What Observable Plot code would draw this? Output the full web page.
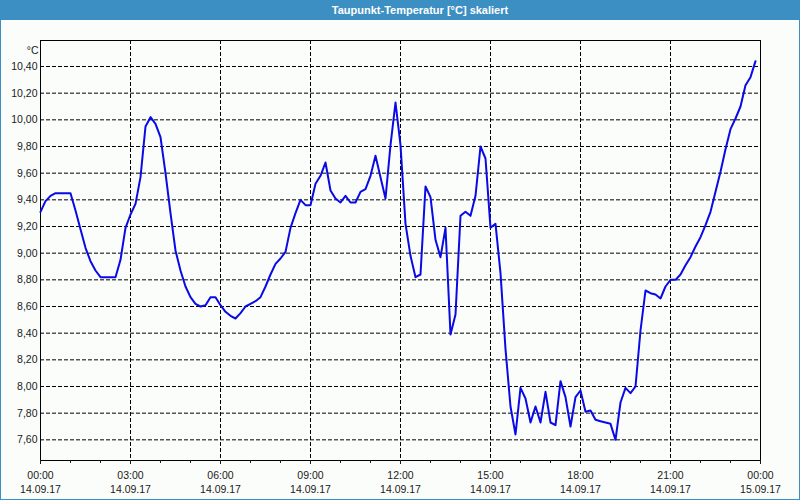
<!DOCTYPE html>
<html><head><meta charset="utf-8">
<script src="https://cdn.jsdelivr.net/npm/d3@7"></script>
<script src="https://cdn.jsdelivr.net/npm/@observablehq/plot@0.6"></script>
<style>
body{margin:0;background:#fff;}
#wrap{width:800px;height:500px;box-sizing:border-box;border:1px solid #3c8fc3;border-top:none;background:#fbfdfb;font-family:"Liberation Sans",Arial,sans-serif;overflow:hidden;}
#title{height:20px;line-height:20px;background:#3c8fc3;color:#fff;font-weight:bold;font-size:11px;text-align:center;padding-left:40px;}
#chart svg{display:block;}
</style></head>
<body><div id="wrap"><div id="title">Taupunkt-Temperatur [°C] skaliert</div><div id="chart"></div></div>
<script>
const times = [
"00:00","00:10","00:20","00:30","00:40","00:50","01:00","01:10","01:20","01:30","01:40","01:50",
"02:00","02:10","02:20","02:30","02:40","02:50","03:00","03:10","03:20","03:30","03:40","03:50",
"04:00","04:10","04:20","04:30","04:40","04:50","05:00","05:10","05:20","05:30","05:40","05:50",
"06:00","06:10","06:20","06:30","06:40","06:50","07:00","07:10","07:20","07:30","07:40","07:50",
"08:00","08:10","08:20","08:30","08:40","08:50","09:00","09:10","09:20","09:30","09:40","09:50",
"10:00","10:10","10:20","10:30","10:40","10:50","11:00","11:10","11:20","11:30","11:40","11:50",
"12:00","12:10","12:20","12:30","12:40","12:50","13:00","13:10","13:20","13:30","13:40","13:50",
"14:00","14:10","14:20","14:30","14:40","14:50","15:00","15:10","15:20","15:30","15:40","15:50",
"16:00","16:10","16:20","16:30","16:40","16:50","17:00","17:10","17:20","17:30","17:40","17:50",
"18:00","18:10","18:20","18:30","18:40","18:50","19:00","19:10","19:20","19:30","19:40","19:50",
"20:00","20:10","20:20","20:30","20:40","20:50","21:00","21:10","21:20","21:30","21:40","21:50",
"22:00","22:10","22:20","22:30","22:40","22:50","23:00","23:10","23:20","23:30","23:40","23:50"
];
const values = [
9.31,9.39,9.43,9.45,9.45,9.45,9.45,9.32,9.18,9.04,8.94,8.87,
8.82,8.82,8.82,8.82,8.95,9.19,9.29,9.37,9.57,9.95,10.02,9.97,
9.87,9.60,9.30,9.02,8.87,8.75,8.67,8.62,8.60,8.61,8.67,8.67,
8.61,8.56,8.53,8.51,8.55,8.60,8.62,8.64,8.67,8.75,8.84,8.92,
8.96,9.01,9.19,9.30,9.40,9.36,9.36,9.52,9.58,9.68,9.47,9.41,
9.38,9.43,9.38,9.38,9.46,9.48,9.58,9.73,9.57,9.41,9.81,10.13,
9.81,9.22,8.98,8.82,8.84,9.50,9.42,9.10,8.97,9.19,8.39,8.54,
9.28,9.31,9.28,9.43,9.80,9.71,9.19,9.22,8.85,8.28,7.85,7.64,
7.99,7.91,7.73,7.85,7.73,7.96,7.73,7.71,8.04,7.92,7.70,7.92,
7.97,7.81,7.82,7.75,7.74,7.73,7.72,7.60,7.88,7.99,7.95,8.00,
8.42,8.72,8.70,8.69,8.66,8.75,8.80,8.80,8.84,8.91,8.97,9.05,
9.12,9.21,9.31,9.46,9.61,9.78,9.93,10.01,10.10,10.26,10.32,10.44
];
const yTicks = [7.6,7.8,8.0,8.2,8.4,8.6,8.8,9.0,9.2,9.4,9.6,9.8,10.0,10.2,10.4];
const yTickLabels = ["7,60","7,80","8,00","8,20","8,40","8,60","8,80","9,00","9,20","9,40","9,60","9,80","10,00","10,20","10,40"];
const xMajorLabels = ["00:00\n14.09.17","03:00\n14.09.17","06:00\n14.09.17","09:00\n14.09.17","12:00\n14.09.17","15:00\n14.09.17","18:00\n14.09.17","21:00\n14.09.17","00:00\n15.09.17"];
const unit = "°C";

const day = Date.UTC(2017, 8, 14);
const data = times.map((t, i) => {
  const [h, m] = t.split(":").map(Number);
  return {date: new Date(day + (h * 60 + m) * 60000), value: values[i]};
});
const start = new Date(day), end = new Date(day + 24 * 3600000);
const majorTicks = d3.utcHour.every(3).range(start, new Date(+end + 1));
const minorTicks = d3.utcHour.every(1).range(start, new Date(+end + 1));

const chart = Plot.plot({
  width: 798, height: 479,
  marginTop: 20, marginBottom: 39, marginLeft: 39, marginRight: 39,
  style: {background: "transparent", fontFamily: "'Liberation Sans', Arial, sans-serif", fontSize: "10.5px", color: "#1a1a1a"},
  x: {type: "utc", domain: [start, end], label: null},
  y: {domain: [7.445, 10.595], label: null},
  marks: [
    Plot.gridY(yTicks, {stroke: "#000", strokeOpacity: 1, strokeDasharray: "4,2"}),
    Plot.gridX(majorTicks, {stroke: "#000", strokeOpacity: 1, strokeDasharray: "4,2"}),
    Plot.frame({stroke: "#000"}),
    Plot.axisY(yTicks, {tickSize: 0, tickPadding: 3, label: null, tickFormat: (d, i) => yTickLabels[i]}),
    Plot.axisX(minorTicks, {tickSize: 3, label: null, tickFormat: () => ""}),
    Plot.axisX(majorTicks, {tickSize: 4, tickPadding: 4, lineHeight: 1.38, label: null, tickFormat: (d, i) => xMajorLabels[i]}),
    Plot.line(data, {x: "date", y: "value", stroke: "#0a0ae6", strokeWidth: 2}),
    Plot.text([unit], {frameAnchor: "top-left", textAnchor: "end", dx: -2, dy: 6, fill: "#1a1a1a"})
  ]
});
document.getElementById("chart").appendChild(chart);
</script>
</body></html>
